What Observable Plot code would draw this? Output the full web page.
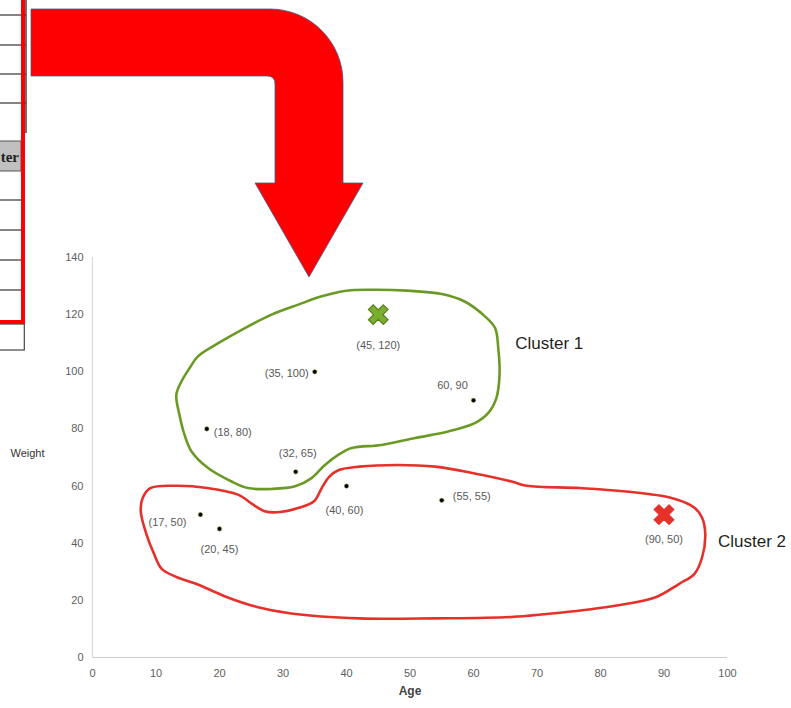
<!DOCTYPE html>
<html>
<head>
<meta charset="utf-8">
<script src="https://cdn.jsdelivr.net/npm/d3@7"></script>
<script src="https://cdn.jsdelivr.net/npm/@observablehq/plot@0.6"></script>
<style>
  html, body { margin: 0; padding: 0; background: #fff; }
  #chart { width: 791px; height: 708px; overflow: hidden; }
</style>
</head>
<body>
<div id="chart"></div>
<script>
// Observations: age and weight of each person
const ages = [35, 60, 18, 32, 40, 55, 17, 20];
const weights = [100, 90, 80, 65, 60, 55, 50, 45];
const pointLabels = ["(35, 100)", "60, 90", "(18, 80)", "(32, 65)", "(40, 60)", "(55, 55)", "(17, 50)", "(20, 45)"];

// Cluster centroids
const clusterNames = ["Cluster 1", "Cluster 2"];
const centroidAges = [45, 90];
const centroidWeights = [120, 50];
const centroidLabels = ["(45, 120)", "(90, 50)"];

// Axis ticks
const xTicks = [0, 10, 20, 30, 40, 50, 60, 70, 80, 90, 100];
const yTicks = [0, 20, 40, 60, 80, 100, 120, 140];

// Hand-drawn cluster boundaries, as [age, weight] outline points
const cluster1Outline = [
  [39.7, 128.3], [43.9, 128.7], [49.5, 128.4], [55.0, 127.2], [58.6, 124.6], [61.8, 119.4],
  [63.4, 115.3], [63.9, 108.3], [64.1, 99.0], [63.6, 90.8], [62.3, 85.5], [60.2, 82.0],
  [56.0, 79.1], [50.8, 76.8], [45.5, 74.4], [40.8, 73.3], [38.7, 70.9], [36.6, 67.4],
  [34.5, 62.8], [31.9, 59.9], [28.2, 59.0], [24.5, 59.3], [21.9, 61.6], [18.2, 66.3],
  [15.6, 72.1], [14.5, 77.9], [13.7, 84.9], [13.2, 91.9], [14.0, 96.6], [15.3, 101.3],
  [16.6, 105.4], [19.8, 110.0], [24.0, 115.3], [28.2, 120.0], [32.4, 123.5], [36.1, 126.4]
];
const cluster2Outline = [
  [9.1, 59.3], [7.9, 55.8], [7.6, 51.2], [8.5, 43.1], [9.7, 36.2], [10.9, 31.0],
  [13.3, 28.1], [16.3, 25.8], [21.1, 21.2], [25.9, 17.7], [31.3, 15.4], [42.0, 13.7],
  [54.0, 13.7], [66.0, 14.2], [75.0, 16.0], [82.8, 18.3], [88.8, 21.2], [92.4, 25.8],
  [94.8, 29.3], [96.0, 35.0], [96.5, 43.1], [96.0, 48.9], [94.8, 52.4], [91.2, 55.8],
  [84.0, 58.1], [76.8, 59.3], [68.4, 60.1], [66.0, 61.6], [60.0, 64.5], [54.0, 66.8],
  [48.0, 67.4], [42.0, 66.8], [38.8, 65.6], [37.3, 63.3], [36.1, 59.3], [34.9, 54.7],
  [32.5, 52.4], [29.5, 50.9], [27.1, 51.2], [25.3, 53.5], [22.9, 57.0], [18.1, 59.3],
  [13.3, 60.1]
];

// Styling
const GREEN = "#6a9a25";
const GREEN_FILL = "#7bae2f";
const GREEN_EDGE = "#557f1a";
const RED = "#e6302a";
const TEXT_GRAY = "#595959";

// Label placement (pixels) for each observation label
const labelLayout = [
  {dx: -6, dy: 2, anchor: "end"},
  {dx: -21, dy: -15, anchor: "middle"},
  {dx: 7, dy: 4, anchor: "start"},
  {dx: 2, dy: -18, anchor: "middle"},
  {dx: -2, dy: 24, anchor: "middle"},
  {dx: 11, dy: -4, anchor: "start"},
  {dx: -14, dy: 8, anchor: "end"},
  {dx: 0, dy: 21, anchor: "middle"}
];
const centroidColors = [GREEN_FILL, RED];
const centroidEdges = [GREEN_EDGE, RED];
const centroidLabelDy = [31, 25];
const clusterNameOffset = [{dx: 137, dy: 29}, {dx: 54, dy: 27}];

// Filled "X" marker
const crossSymbol = {
  draw(context, size) {
    const r = Math.sqrt(size / Math.PI);
    const a = r * 0.32;
    const plus = [[-a, -r], [a, -r], [a, -a], [r, -a], [r, a], [a, a], [a, r], [-a, r], [-a, a], [-r, a], [-r, -a], [-a, -a]];
    const s = Math.SQRT1_2;
    plus.forEach(([x, y], i) => {
      const px = (x - y) * s, py = (x + y) * s;
      if (i === 0) context.moveTo(px, py); else context.lineTo(px, py);
    });
    context.closePath();
  }
};

const idx = d3.range(ages.length);
const cidx = d3.range(centroidAges.length);

const chart = Plot.plot({
  width: 791,
  height: 708,
  marginLeft: 92,
  marginRight: 64,
  marginTop: 257,
  marginBottom: 51,
  x: {domain: [0, 100]},
  y: {domain: [0, 140]},
  style: {fontFamily: "'Liberation Sans', Arial, sans-serif", background: "#fff", overflow: "visible"},
  marks: [
    Plot.ruleX([0], {stroke: "#d9d9d9", strokeWidth: 1.2}),
    Plot.ruleY([0], {stroke: "#cccccc", strokeWidth: 1.2}),
    Plot.axisX({ticks: xTicks, tickSize: 0, tickPadding: 12, fontSize: 11, color: "#606060", label: null}),
    Plot.axisY({ticks: yTicks, tickSize: 0, tickPadding: 9, fontSize: 11, color: "#606060", label: null}),
    Plot.text(["Age"], {frameAnchor: "bottom", text: d => d, dy: 37, fontWeight: "bold", fontSize: 12, fill: "#444"}),
    Plot.text(["Weight"], {frameAnchor: "left", text: d => d, textAnchor: "middle", dx: -65, dy: -4, fontSize: 11, fill: "#333"}),

    // cluster boundaries
    Plot.line(cluster1Outline, {x: d => d[0], y: d => d[1], curve: "catmull-rom-closed", stroke: GREEN, strokeWidth: 2.6}),
    Plot.line(cluster2Outline, {x: d => d[0], y: d => d[1], curve: "catmull-rom-closed", stroke: RED, strokeWidth: 2.6}),

    // observations
    Plot.dot(idx, {x: i => ages[i], y: i => weights[i], r: 2.4, fill: "#000", stroke: "#d6e59a", strokeWidth: 0.6}),
    ...idx.map(i => Plot.text([i], {
      x: j => ages[j], y: j => weights[j], text: j => pointLabels[j],
      dx: labelLayout[i].dx, dy: labelLayout[i].dy, textAnchor: labelLayout[i].anchor,
      fontSize: 11, fill: TEXT_GRAY
    })),

    // centroids
    ...cidx.map(i => Plot.dot([i], {
      x: j => centroidAges[j], y: j => centroidWeights[j], r: 10.5, symbol: crossSymbol,
      fill: centroidColors[i], stroke: centroidEdges[i], strokeWidth: 1.2
    })),
    ...cidx.map(i => Plot.text([i], {
      x: j => centroidAges[j], y: j => centroidWeights[j], text: j => centroidLabels[j],
      dy: centroidLabelDy[i], fontSize: 11, fill: TEXT_GRAY
    })),
    ...cidx.map(i => Plot.text([i], {
      x: j => centroidAges[j], y: j => centroidWeights[j], text: j => clusterNames[j],
      dx: clusterNameOffset[i].dx, dy: clusterNameOffset[i].dy, textAnchor: "start",
      fontSize: 17, fill: "#1f1f1f"
    }))
  ]
});

// Slide furniture around the chart: the edge of the assignment table and the bent arrow
const svg = d3.select(chart);
const deco = svg.insert("g", ":first-child").attr("class", "slide-furniture");

const table = deco.append("g");
[15, 45, 74, 103].forEach(y => table.append("line").attr("x1", 0).attr("x2", 26).attr("y1", y).attr("y2", y).attr("stroke", "#333").attr("stroke-width", 1.2));
table.append("line").attr("x1", 26).attr("x2", 26).attr("y1", 0).attr("y2", 133).attr("stroke", "#333").attr("stroke-width", 1.4);
table.append("rect").attr("x", -2).attr("y", 141).attr("width", 23).attr("height", 30).attr("fill", "#c0c0c0").attr("stroke", "#555").attr("stroke-width", 1);
table.append("text").attr("x", 19).attr("y", 162).attr("text-anchor", "end")
  .attr("font-family", "'Liberation Serif', 'DejaVu Serif', serif").attr("font-weight", "bold").attr("font-size", 15).attr("fill", "#222").text("ter");
[200, 230, 260, 290].forEach(y => table.append("line").attr("x1", 0).attr("x2", 22).attr("y1", y).attr("y2", y).attr("stroke", "#333").attr("stroke-width", 1.2));
table.append("rect").attr("x", -2).attr("y", 324).attr("width", 26.3).attr("height", 26).attr("fill", "none").attr("stroke", "#444").attr("stroke-width", 1.2);
table.append("path").attr("d", "M23,0 L23,322 L0,322").attr("fill", "none").attr("stroke", "#ff0000").attr("stroke-width", 4);

deco.append("path")
  .attr("d", "M31,9 L270,9 A73,73 0 0 1 343,82 L343,183 L363,183 L309,277 L255,183 L275,183 L275,84 Q275,76 267,76 L31,76 Z")
  .attr("fill", "#ff0000").attr("stroke", "#3f5f8f").attr("stroke-width", 0.8);

document.getElementById("chart").append(chart);
</script>
</body>
</html>
